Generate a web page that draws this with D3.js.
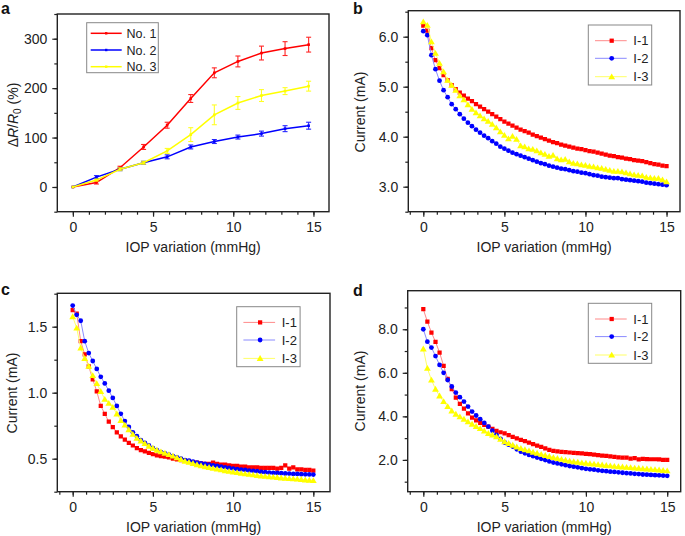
<!DOCTYPE html>
<html><head><meta charset="utf-8">
<script src="https://cdn.jsdelivr.net/npm/d3@7"></script>
<style>
body{margin:0;background:#fff;}
svg{display:block;font-family:"Liberation Sans",Arial,Helvetica,sans-serif;}
</style></head>
<body>
<svg id="chart" width="685" height="536"></svg>
<script>
// ---------- DATA ----------
// Panel a
const xA = [0, 1.47, 2.94, 4.41, 5.88, 7.35, 8.82, 10.29, 11.76, 13.23, 14.7];
const no1 = [0, 9, 39, 81, 125, 179, 231, 254, 271, 280, 288];
const no1Err = [0, 3, 3, 5, 6, 8, 10, 11, 14, 14, 15];
const no2 = [0, 20, 36, 49, 61, 81, 92, 101, 108, 118, 124];
const no2Err = [0, 3, 3, 3, 4, 4, 4, 4, 5, 6, 7];
const no3 = [0, 14, 36, 49, 73, 106, 146, 170, 185, 194, 204];
const no3Err = [0, 2, 3, 3, 5, 14, 20, 13, 12, 7, 10];
const legendA = ["No. 1", "No. 2", "No. 3"];

// Panels b, c, d share the IOP grid
const iop = [0,0.25,0.5,0.75,1,1.25,1.5,1.75,2,2.25,2.5,2.75,3,3.25,3.5,3.75,4,4.25,4.5,4.75,
  5,5.25,5.5,5.75,6,6.25,6.5,6.75,7,7.25,7.5,7.75,8,8.25,8.5,8.75,9,9.25,9.5,9.75,
  10,10.25,10.5,10.75,11,11.25,11.5,11.75,12,12.25,12.5,12.75,13,13.25,13.5,13.75,14,14.25,14.5,14.75,15];
const legendI = ["I-1", "I-2", "I-3"];

// Panel b
const bI1 = [6.22,6.12,5.77,5.53,5.37,5.23,5.13,5.03,4.95,4.88,4.82,4.76,4.71,4.65,4.60,4.55,4.50,4.45,4.40,4.35,
  4.30,4.26,4.22,4.18,4.14,4.11,4.08,4.04,4.01,3.98,3.95,3.92,3.89,3.87,3.84,3.82,3.80,3.78,3.76,3.75,
  3.73,3.71,3.70,3.68,3.66,3.64,3.62,3.61,3.59,3.58,3.56,3.55,3.53,3.52,3.51,3.49,3.47,3.45,3.44,3.42,3.41];
const bI2 = [6.11,6.03,5.63,5.35,5.12,4.93,4.79,4.65,4.55,4.45,4.36,4.28,4.21,4.14,4.08,4.02,3.97,3.91,3.86,3.80,
  3.76,3.72,3.68,3.65,3.62,3.59,3.56,3.53,3.50,3.47,3.45,3.42,3.40,3.38,3.36,3.35,3.33,3.31,3.30,3.28,
  3.27,3.25,3.23,3.22,3.20,3.19,3.18,3.17,3.17,3.15,3.14,3.13,3.12,3.11,3.10,3.08,3.07,3.06,3.05,3.04,3.03];
const bI3 = [6.30,6.23,5.90,5.67,5.47,5.30,5.13,5.03,4.93,4.82,4.74,4.64,4.55,4.48,4.42,4.36,4.31,4.25,4.18,4.10,
  4.03,3.96,4.01,3.95,3.82,3.80,3.76,3.75,3.72,3.68,3.65,3.61,3.63,3.56,3.54,3.55,3.50,3.47,3.46,3.44,
  3.43,3.41,3.40,3.38,3.37,3.35,3.33,3.31,3.31,3.30,3.28,3.26,3.24,3.23,3.22,3.19,3.18,3.17,3.17,3.14,3.10];

// Panel c
const cI1 = [1.626,1.60,1.39,1.29,1.20,1.10,1.01,0.90,0.84,0.78,0.74,0.70,0.67,0.645,0.62,0.60,0.58,0.565,0.555,0.545,
  0.535,0.525,0.52,0.515,0.51,0.50,0.495,0.49,0.485,0.48,0.475,0.47,0.465,0.46,0.46,0.47,0.46,0.455,0.455,0.45,
  0.445,0.445,0.44,0.44,0.435,0.435,0.435,0.43,0.43,0.43,0.43,0.425,0.43,0.45,0.425,0.435,0.42,0.42,0.415,0.415,0.41];
const cI2 = [1.66,1.59,1.545,1.39,1.30,1.24,1.18,1.12,1.07,1.015,0.96,0.90,0.84,0.785,0.74,0.70,0.67,0.64,0.62,0.60,
  0.58,0.565,0.55,0.54,0.53,0.52,0.51,0.50,0.49,0.485,0.478,0.47,0.465,0.46,0.455,0.45,0.445,0.44,0.435,0.43,
  0.425,0.42,0.418,0.415,0.41,0.408,0.405,0.40,0.398,0.395,0.393,0.392,0.39,0.388,0.387,0.385,0.385,0.383,0.382,0.381,0.38];
const cI3 = [1.576,1.49,1.34,1.26,1.20,1.13,1.07,1.01,0.95,0.92,0.89,0.84,0.79,0.755,0.72,0.685,0.655,0.635,0.615,0.595,
  0.58,0.565,0.553,0.542,0.532,0.52,0.508,0.495,0.482,0.473,0.465,0.455,0.447,0.44,0.434,0.428,0.422,0.416,0.41,0.405,
  0.40,0.395,0.39,0.386,0.382,0.378,0.374,0.37,0.367,0.364,0.361,0.358,0.355,0.353,0.35,0.348,0.346,0.343,0.34,0.338,0.335];

// Panel d
const dI1 = [8.92,8.35,7.85,7.42,6.93,6.32,5.72,5.25,4.86,4.57,4.36,4.14,3.94,3.82,3.70,3.61,3.53,3.43,3.33,3.27,
  3.22,3.14,3.06,2.99,2.92,2.86,2.79,2.72,2.66,2.60,2.53,2.46,2.41,2.39,2.37,2.36,2.34,2.32,2.31,2.30,
  2.28,2.26,2.24,2.22,2.20,2.18,2.16,2.14,2.12,2.11,2.10,2.06,2.08,2.02,2.05,2.04,2.03,2.03,2.02,2.00,2.00];
const dI2 = [8.00,7.43,7.16,6.77,6.36,6.00,5.67,5.37,5.09,4.88,4.68,4.45,4.22,4.04,3.87,3.70,3.53,3.34,3.15,2.97,
  2.80,2.70,2.61,2.49,2.38,2.30,2.23,2.17,2.11,2.05,1.99,1.93,1.88,1.84,1.80,1.76,1.72,1.69,1.66,1.62,
  1.59,1.57,1.55,1.52,1.50,1.48,1.46,1.45,1.43,1.41,1.39,1.38,1.36,1.35,1.33,1.32,1.31,1.30,1.29,1.28,1.27];
const dI3 = [7.10,6.21,5.67,5.25,4.94,4.68,4.45,4.25,4.10,3.98,3.87,3.75,3.64,3.54,3.44,3.33,3.22,3.15,3.07,2.95,
  2.84,2.76,2.68,2.60,2.53,2.47,2.42,2.36,2.31,2.26,2.21,2.16,2.11,2.07,2.03,1.99,1.95,1.92,1.90,1.87,
  1.85,1.83,1.81,1.79,1.77,1.75,1.73,1.71,1.69,1.68,1.66,1.65,1.63,1.62,1.60,1.59,1.57,1.56,1.54,1.52,1.50];

// Tick labels
const xTicks = [0, 5, 10, 15];
const yTicksA = [0, 100, 200, 300];
const yTicksB = [3, 4, 5, 6];
const yTicksC = [0.5, 1.0, 1.5];
const yTicksD = [2, 4, 6, 8];

// ---------- STYLE ----------
const RED = "#ff0000", BLUE = "#0000ff", YEL = "#ffff00";
const LRED = "#ff8a8a", LBLUE = "#8a8aff", LYEL = "#ffff66";
const FS = 14;

const svg = d3.select("#chart");

function drawFrame(p) {
  const g = svg.append("g");
  const x = d3.scaleLinear().domain(p.xDomain).range([p.l, p.r]);
  const y = d3.scaleLinear().domain(p.yDomain).range([p.b, p.t]);

  const xMinor = p.xMinor.filter(v => v >= p.xDomain[0] - 1e-6 && v <= p.xDomain[1] + 1e-6);
  g.append("g").attr("transform", `translate(0,${p.b})`)
    .call(d3.axisBottom(x).tickValues(xMinor).tickSize(3).tickFormat(""))
    .call(a => a.select(".domain").remove())
    .call(a => a.selectAll("line").attr("stroke", "#222").attr("stroke-width", 1.2));
  g.append("g").attr("transform", `translate(0,${p.b})`)
    .call(d3.axisBottom(x).tickValues(xTicks).tickSize(5).tickPadding(5).tickFormat(d3.format("d")))
    .call(a => a.select(".domain").remove())
    .call(a => a.selectAll("line").attr("stroke", "#222").attr("stroke-width", 1.2))
    .call(a => a.selectAll("text").attr("font-size", FS).attr("fill", "#222")
      .attr("font-family", "Liberation Sans, Arial, sans-serif"));

  const yMinor = p.yMinor.filter(v => v >= p.yDomain[0] - 1e-6 && v <= p.yDomain[1] + 1e-6);
  g.append("g").attr("transform", `translate(${p.l},0)`)
    .call(d3.axisLeft(y).tickValues(yMinor).tickSize(3).tickFormat(""))
    .call(a => a.select(".domain").remove())
    .call(a => a.selectAll("line").attr("stroke", "#222").attr("stroke-width", 1.2));
  g.append("g").attr("transform", `translate(${p.l},0)`)
    .call(d3.axisLeft(y).tickValues(p.yTicks).tickSize(5).tickPadding(5).tickFormat(p.yFmt))
    .call(a => a.select(".domain").remove())
    .call(a => a.selectAll("line").attr("stroke", "#222").attr("stroke-width", 1.2))
    .call(a => a.selectAll("text").attr("font-size", FS).attr("fill", "#222")
      .attr("font-family", "Liberation Sans, Arial, sans-serif"));

  g.append("rect").attr("x", p.l).attr("y", p.t).attr("width", p.r - p.l).attr("height", p.b - p.t)
    .attr("fill", "none").attr("stroke", "#222").attr("stroke-width", 1.4);

  g.append("text").attr("x", (p.l + p.r) / 2).attr("y", p.b + 40).attr("text-anchor", "middle")
    .attr("font-size", FS).attr("fill", "#222").text("IOP variation (mmHg)");

  g.append("text").attr("x", p.letterX).attr("y", p.letterY).attr("font-size", 16)
    .attr("font-weight", "bold").attr("fill", "#111").text(p.letter);

  return {x, y, g};
}

function yTitle(g, cx, cy, builder) {
  const t = g.append("text").attr("transform", `translate(${cx},${cy}) rotate(-90)`)
    .attr("text-anchor", "middle").attr("font-size", FS).attr("fill", "#222");
  builder(t);
}

// ---------- Panel a ----------
{
  const p = {letter: "a", letterX: 1, letterY: 14, l: 57.3, t: 14, r: 329, b: 211.7,
    xDomain: [-0.97, 15.97], yDomain: [-50, 350],
    xMinor: d3.range(-1, 17, 1), yMinor: d3.range(-50, 351, 50), yTicks: yTicksA, yFmt: d3.format("d")};
  const {x, y, g} = drawFrame(p);
  yTitle(g, 18, 115, t => {
    t.append("tspan").text("\u0394");
    t.append("tspan").attr("font-style", "italic").text("R");
    t.append("tspan").text("/");
    t.append("tspan").attr("font-style", "italic").text("R");
    t.append("tspan").attr("font-size", 10).attr("dy", 3).text("0");
    t.append("tspan").attr("dy", -3).text(" (%)");
  });
  const series = [
    {v: no1, e: no1Err, c: RED},
    {v: no2, e: no2Err, c: BLUE},
    {v: no3, e: no3Err, c: YEL}
  ];
  series.forEach(s => {
    const pts = xA.map((xv, i) => ({x: xv, y: s.v[i], e: s.e[i]}));
    g.append("path").datum(pts).attr("fill", "none").attr("stroke", s.c).attr("stroke-width", 1.5)
      .attr("d", d3.line().x(d => x(d.x)).y(d => y(d.y)));
    const eb = g.append("g").attr("stroke", s.c).attr("stroke-width", 1.1).attr("opacity", 0.85);
    pts.filter(d => d.e > 0).forEach(d => {
      eb.append("line").attr("x1", x(d.x)).attr("x2", x(d.x)).attr("y1", y(d.y - d.e)).attr("y2", y(d.y + d.e));
      eb.append("line").attr("x1", x(d.x) - 2.5).attr("x2", x(d.x) + 2.5).attr("y1", y(d.y - d.e)).attr("y2", y(d.y - d.e));
      eb.append("line").attr("x1", x(d.x) - 2.5).attr("x2", x(d.x) + 2.5).attr("y1", y(d.y + d.e)).attr("y2", y(d.y + d.e));
    });
    g.append("g").selectAll("rect").data(pts).join("rect")
      .attr("x", d => x(d.x) - 1.3).attr("y", d => y(d.y) - 1.3).attr("width", 2.6).attr("height", 2.6)
      .attr("fill", s.c);
  });
  const lg = g.append("g");
  lg.append("rect").attr("x", 86.7).attr("y", 22.7).attr("width", 71.6).attr("height", 50)
    .attr("fill", "#fff").attr("stroke", "#888").attr("stroke-width", 1);
  const ly = [33.3, 50, 66.7];
  [RED, BLUE, YEL].forEach((c, i) => {
    lg.append("line").attr("x1", 90.7).attr("x2", 121.7).attr("y1", ly[i]).attr("y2", ly[i])
      .attr("stroke", c).attr("stroke-width", 1.5);
    lg.append("rect").attr("x", 105).attr("y", ly[i] - 1.2).attr("width", 2.4).attr("height", 2.4).attr("fill", c);
    lg.append("text").attr("x", 126.5).attr("y", ly[i] + 4.5).attr("font-size", 12.5).attr("fill", "#222")
      .text(legendA[i]);
  });
}

// ---------- generic I panels ----------
function iPanel(p, series, legendPos, titlePos) {
  const {x, y, g} = drawFrame(p);
  yTitle(g, titlePos[0], titlePos[1], t => t.text("Current (mA)"));
  const sym = [d3.symbolSquare, d3.symbolCircle, d3.symbolTriangle];
  const symSize = [18, 18, 20];
  const cols = [RED, BLUE, YEL], lcols = [LRED, LBLUE, LYEL];
  const clip = "clip" + p.letter;
  g.append("clipPath").attr("id", clip).append("rect")
    .attr("x", p.l).attr("y", p.t).attr("width", p.r - p.l).attr("height", p.b - p.t);
  const plotG = g.append("g").attr("clip-path", `url(#${clip})`);
  series.forEach((vals, si) => {
    const pts = iop.map((xv, i) => ({x: xv, y: vals[i]}));
    plotG.append("path").datum(pts).attr("fill", "none").attr("stroke", lcols[si]).attr("stroke-width", 1)
      .attr("d", d3.line().x(d => x(d.x)).y(d => y(d.y)));
    plotG.append("g").selectAll("path").data(pts).join("path")
      .attr("transform", d => `translate(${x(d.x)},${y(d.y) + (si === 2 ? 0.6 : 0)})`)
      .attr("d", d3.symbol().type(sym[si]).size(symSize[si]))
      .attr("fill", cols[si]);
  });
  const [lx, lyTop] = legendPos;
  const lg = g.append("g");
  lg.append("rect").attr("x", lx).attr("y", lyTop).attr("width", 63.4).attr("height", 60)
    .attr("fill", "#fff").attr("stroke", "#888").attr("stroke-width", 1);
  const offs = [15.7, 33.3, 51.7];
  cols.forEach((c, i) => {
    const yy = lyTop + offs[i];
    lg.append("line").attr("x1", lx + 6.7).attr("x2", lx + 38.4).attr("y1", yy).attr("y2", yy)
      .attr("stroke", lcols[i]).attr("stroke-width", 1);
    lg.append("path").attr("transform", `translate(${lx + 23.4},${yy + (i === 2 ? 0.6 : 0)})`)
      .attr("d", d3.symbol().type(sym[i]).size(symSize[i])).attr("fill", c);
    lg.append("text").attr("x", lx + 45).attr("y", yy + 4.5).attr("font-size", 13).attr("fill", "#222")
      .text(legendI[i]);
  });
}

const minorBCD = d3.range(-1, 19).map(k => k * 5 / 6);

iPanel({letter: "b", letterX: 353, letterY: 14, l: 408.3, t: 10.7, r: 680, b: 211.7,
  xDomain: [-0.925, 15.83], yDomain: [2.5, 6.52],
  xMinor: minorBCD, yMinor: d3.range(2.5, 6.51, 0.5), yTicks: yTicksB, yFmt: d3.format(".1f")},
  [bI1, bI2, bI3], [588.3, 25], [365, 112]);

iPanel({letter: "c", letterX: 1, letterY: 295, l: 57.3, t: 293.3, r: 330, b: 491.7,
  xDomain: [-0.96, 16.04], yDomain: [0.25, 1.753],
  xMinor: minorBCD, yMinor: d3.range(0.25, 1.76, 0.25), yTicks: yTicksC, yFmt: d3.format(".1f")},
  [cI1, cI2, cI3], [236.7, 306.7], [17, 393]);

iPanel({letter: "d", letterX: 353, letterY: 296, l: 407.7, t: 290.7, r: 680.7, b: 491.7,
  xDomain: [-0.96, 15.83], yDomain: [0.54, 9.77],
  xMinor: minorBCD, yMinor: d3.range(1, 9.1, 1), yTicks: yTicksD, yFmt: d3.format(".1f")},
  [dI1, dI2, dI3], [588.3, 303.3], [365, 391]);
</script>
</body></html>
